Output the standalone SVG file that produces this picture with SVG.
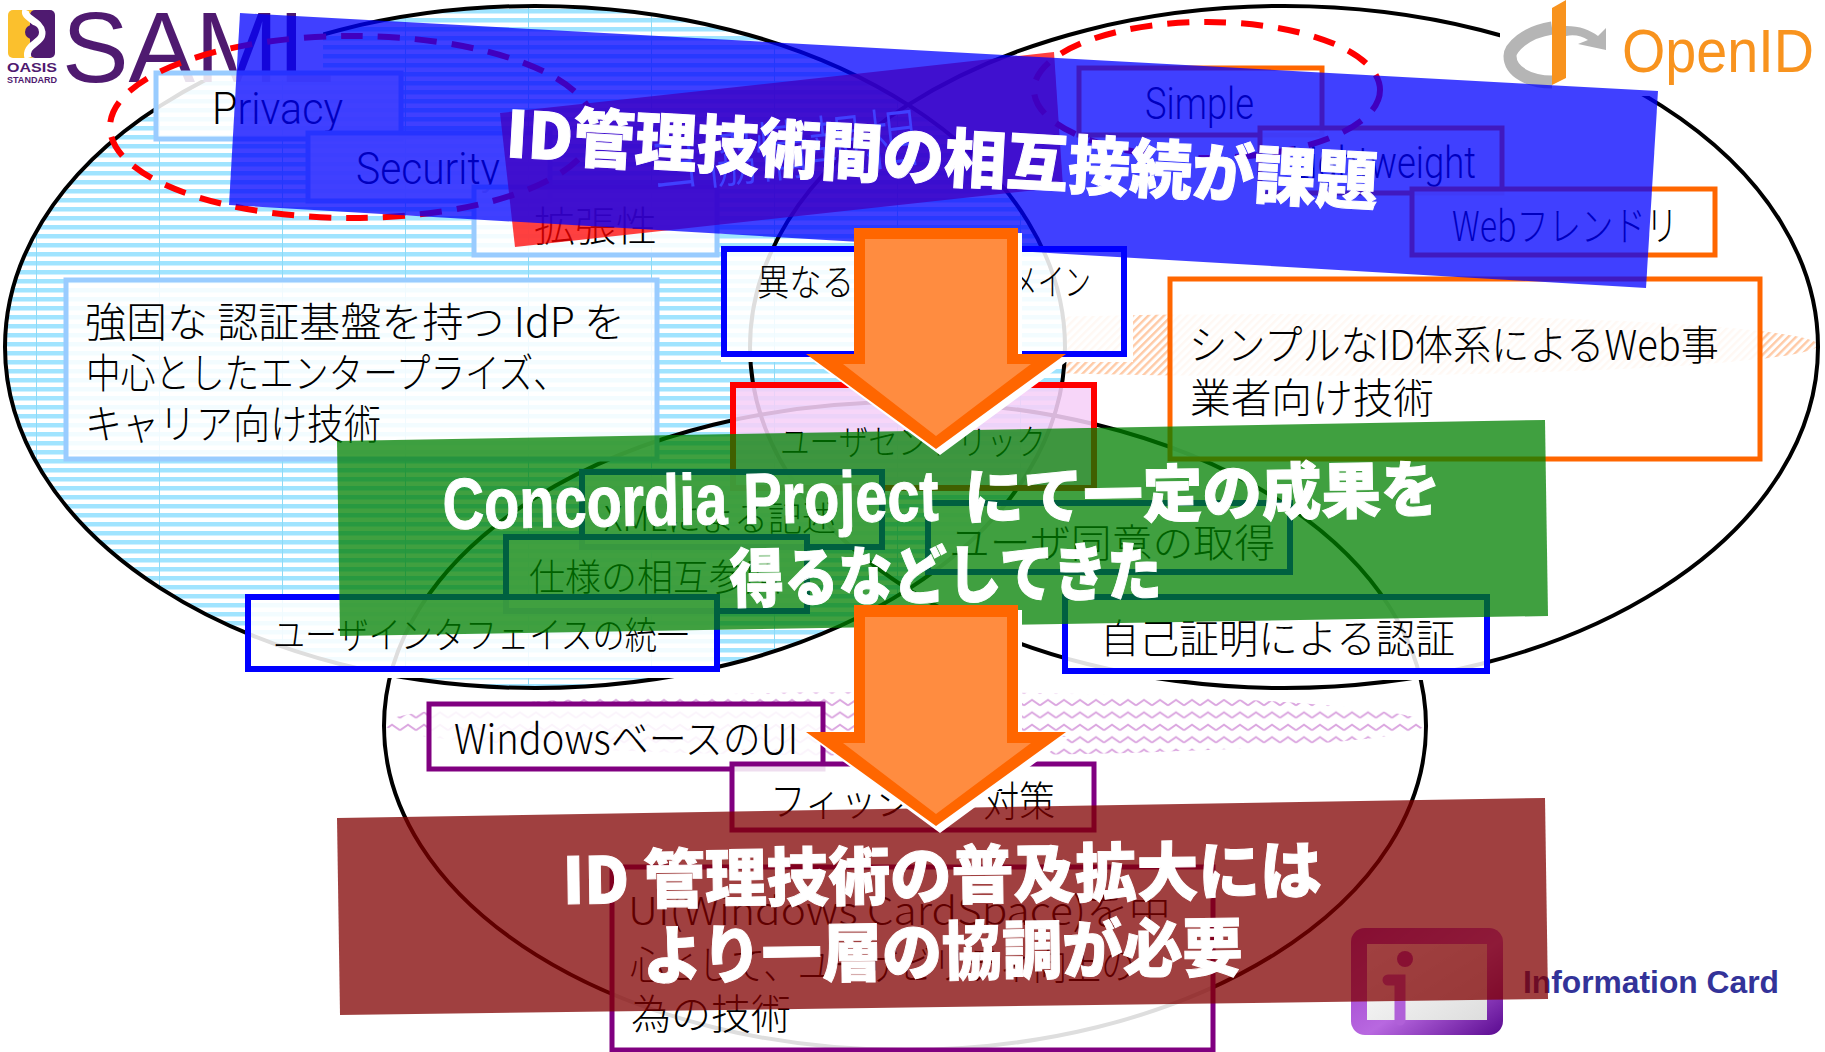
<svg xmlns="http://www.w3.org/2000/svg" width="1825" height="1052" viewBox="0 0 1825 1052">
<style>
text{font-family:"Noto Sans CJK JP","Liberation Sans",sans-serif;fill:#000;font-weight:300}
.lat{font-family:"Roboto","Liberation Sans",sans-serif;font-weight:300}
.logo{font-family:"Liberation Sans",sans-serif;font-weight:400}
.s{font-size:41px}
.title{font-family:"Noto Sans CJK JP",sans-serif;font-weight:900;fill:#fff;stroke:#fff;stroke-width:1}
.tl{font-family:"Liberation Sans",sans-serif;font-weight:700}
.e{fill:none;stroke:#000;stroke-width:4}
.box{fill:#fff;fill-opacity:.87;stroke-width:5}
.lb{stroke:#99ccff}.bl{stroke:#00f;stroke-width:6}.or{stroke:#f60}.pu{stroke:#800080}
.dash{fill:none;stroke:#f00;stroke-width:6;stroke-dasharray:22 15}
.band{fill-opacity:.75}
.white{fill:#fff}
.ao{fill:#f60}.ai{fill:#ff8c40}
</style>
<defs>
<pattern id="stripes" patternUnits="userSpaceOnUse" width="123" height="9" x="36" y="0">
<rect width="123" height="9" fill="#fff"/><rect width="123" height="4.5" fill="#a0e4ff"/><rect width="1" height="9" fill="#8edaf6"/>
</pattern>
<pattern id="hatch" patternUnits="userSpaceOnUse" width="5.5" height="5.5" patternTransform="rotate(-45)">
<rect width="5.5" height="5.5" fill="#fff"/><rect width="5.5" height="2.4" fill="#ffcaa6"/>
</pattern>
<pattern id="zig" patternUnits="userSpaceOnUse" width="16" height="12.4" y="2">
<rect width="16" height="12.4" fill="#fff"/><path d="M0 9L8 3.5L16 9" fill="none" stroke="#dba6e0" stroke-width="2"/>
</pattern>
<linearGradient id="card" x1="0" y1="0" x2="1" y2="1"><stop offset="0" stop-color="#9a38c8"/><stop offset=".55" stop-color="#b868e0"/><stop offset="1" stop-color="#5a0a90"/></linearGradient>
<linearGradient id="cardin" x1="0" y1="0" x2="1" y2="1"><stop offset="0" stop-color="#fff"/><stop offset="1" stop-color="#ddd"/></linearGradient>
</defs>

<g id="backgrounds">
<ellipse cx="1284" cy="345" rx="534" ry="31" fill="url(#hatch)"/>
<ellipse cx="905" cy="724" rx="521" ry="32" fill="url(#zig)"/>
<ellipse cx="535" cy="347" rx="530" ry="341" fill="url(#stripes)"/>
</g>
<g id="connectors">
<ellipse class="e" cx="535" cy="347" rx="530" ry="341"/>
<ellipse class="e" cx="1284" cy="347" rx="534" ry="341"/>
<ellipse class="e" cx="905" cy="726" rx="521" ry="324"/>
</g>
<g id="logo-saml">
<rect class="white" x="0" y="0" width="323" height="80"/>
<rect x="8" y="10" width="28" height="48" rx="5" fill="#fbc02d"/>
<rect x="30" y="10" width="25" height="48" rx="5" fill="#4f1a70"/>
<path d="M26 10C22 18 40 20 42 32C43 44 24 44 28 58" fill="none" stroke="#fff" stroke-width="7"/>
<circle cx="32" cy="32" r="7" fill="#4f1a70"/>
<text class="logo" x="7" y="72" style="font-weight:700;font-size:13px;fill:#4f1a70" textLength="50" lengthAdjust="spacingAndGlyphs">OASIS</text>
<text class="logo" x="7" y="83" style="font-weight:700;font-size:9.5px;fill:#4f1a70" textLength="50" lengthAdjust="spacingAndGlyphs">STANDARD</text>
<text class="logo" x="62" y="82" style="font-size:100px;fill:#4f1a70" textLength="272" lengthAdjust="spacingAndGlyphs">SAML</text>
</g>
<g id="logo-openid">
<rect class="white" x="1500" y="0" width="325" height="96"/>
<path d="M1552 28C1525 32 1510 48 1510 56C1510 72 1530 82 1552 82" fill="none" stroke="#b5b5b5" stroke-width="13"/>
<path d="M1566 26C1580 26 1590 30 1598 36L1606 28L1606 50L1578 44L1588 40C1582 36 1574 34 1566 36Z" fill="#b5b5b5"/>
<path d="M1552 8L1566 0L1566 78L1552 85Z" fill="#f8931e"/>
<text class="logo" x="1622" y="72" style="font-size:62px;fill:#f8931e" textLength="192" lengthAdjust="spacingAndGlyphs">OpenID</text>
</g>

<g id="strips">
<rect class="white" x="245" y="671" width="480" height="7"/>
<rect class="white" x="1062" y="671" width="433" height="9"/>
<rect class="white" x="721" y="355" width="412" height="7"/>
<rect class="white" x="1124" y="245" width="9" height="117"/>
</g>

<g id="node-privacy"><rect class="box lb" x="156" y="73" width="245" height="66"/><text class="lat" x="212" y="124" style="font-size:44px" textLength="131" lengthAdjust="spacingAndGlyphs">Privacy</text></g>
<g id="node-security"><rect class="box lb" x="308" y="133" width="242" height="68"/><text class="lat" x="356" y="184" style="font-size:44px" textLength="144" lengthAdjust="spacingAndGlyphs">Security</text></g>
<g id="node-kakucho"><rect class="box lb" x="474" y="187" width="243" height="68"/><text class="s" x="534" y="241" textLength="123" lengthAdjust="spacingAndGlyphs">拡張性</text></g>
<g id="node-saml-desc"><rect class="box lb" x="66" y="280" width="591" height="179"/>
<text class="s" x="85" y="337" textLength="540" lengthAdjust="spacingAndGlyphs">強固な 認証基盤を持つ IdP を</text>
<text class="s" x="86" y="388" textLength="482" lengthAdjust="spacingAndGlyphs">中心としたエンタープライズ、</text>
<text class="s" x="85" y="439" textLength="296" lengthAdjust="spacingAndGlyphs">キャリア向け技術</text></g>
<g id="node-domain"><rect class="box bl" x="724" y="249" width="400" height="105"/><text class="s" x="757" y="296" style="font-size:37px" textLength="97" lengthAdjust="spacingAndGlyphs">異なる</text><text class="s" x="1011" y="296" style="font-size:37px" textLength="80" lengthAdjust="spacingAndGlyphs">メイン</text></g>
<g id="node-user-centric"><rect class="box" style="stroke:#f00;stroke-width:6;fill:#f6d0f8;fill-opacity:.88" x="733" y="385" width="361" height="103"/><text class="s" x="780" y="455" style="font-size:35px" textLength="266" lengthAdjust="spacingAndGlyphs">ユーザセントリック</text></g>
<g id="node-xml"><rect class="box bl" x="582" y="472" width="300" height="75"/><text class="s" x="604" y="531" style="font-size:34px" textLength="232" lengthAdjust="spacingAndGlyphs">XMLによる記述</text></g>
<g id="node-spec"><rect class="box bl" x="506" y="537" width="301" height="74"/><text class="s" x="529" y="591" style="font-size:37px" textLength="252" lengthAdjust="spacingAndGlyphs">仕様の相互参照</text></g>
<g id="node-consent"><rect class="box bl" x="928" y="503" width="362" height="69"/><text class="s" x="949" y="557" style="font-size:39px" textLength="326" lengthAdjust="spacingAndGlyphs">ユーザ同意の取得</text></g>
<g id="node-ui"><rect class="box bl" x="248" y="597" width="469" height="72"/><text class="s" x="273" y="649" style="font-size:37px" textLength="416" lengthAdjust="spacingAndGlyphs">ユーザインタフェイスの統一</text></g>
<g id="node-self"><rect class="box bl" x="1065" y="597" width="422" height="74"/><text class="s" x="1100" y="653" style="font-size:40px" textLength="355" lengthAdjust="spacingAndGlyphs">自己証明による認証</text></g>
<g id="node-simple"><rect class="box or" x="1079" y="68" width="243" height="67"/><text class="lat" x="1145" y="119" style="font-size:44px" textLength="109" lengthAdjust="spacingAndGlyphs">Simple</text></g>
<g id="node-lightweight"><rect class="box or" x="1260" y="128" width="242" height="65"/><text class="lat" x="1290" y="178" style="font-size:44px" textLength="186" lengthAdjust="spacingAndGlyphs">Lightweight</text></g>
<g id="node-web"><rect class="box or" x="1412" y="189" width="303" height="66"/><text class="s" x="1452" y="241" textLength="226" lengthAdjust="spacingAndGlyphs">Webフレンドリ</text></g>
<g id="node-openid-desc"><rect class="box or" x="1170" y="279" width="590" height="180"/>
<text class="s" x="1189" y="360" textLength="530" lengthAdjust="spacingAndGlyphs">シンプルなID体系によるWeb事</text>
<text class="s" x="1190" y="413" textLength="244" lengthAdjust="spacingAndGlyphs">業者向け技術</text></g>
<g id="node-windows"><rect class="box pu" x="429" y="704" width="394" height="65"/><text class="s" x="454" y="754" textLength="344" lengthAdjust="spacingAndGlyphs">WindowsベースのUI</text></g>
<g id="node-phishing"><rect class="box pu" x="732" y="764" width="362" height="66"/><text class="s" x="770" y="816" textLength="285" lengthAdjust="spacingAndGlyphs">フィッシング対策</text></g>
<g id="node-cardspace"><rect class="box pu" x="612" y="867" width="601" height="183"/>
<text class="s" x="628" y="925" style="font-size:39px" textLength="543" lengthAdjust="spacingAndGlyphs">UI(Windows CardSpace)を中</text>
<text class="s" x="630" y="979" style="font-size:39px" textLength="505" lengthAdjust="spacingAndGlyphs">心として、ユーザビリティ向上の</text>
<text class="s" x="631" y="1029" textLength="160" lengthAdjust="spacingAndGlyphs">為の技術</text></g>

<g id="logo-infocard">
<rect x="1351" y="928" width="152" height="107" rx="14" fill="url(#card)"/>
<rect x="1367" y="944" width="120" height="76" fill="url(#cardin)"/>
<circle cx="1405" cy="959" r="8" fill="#a040c8"/>
<path d="M1388 980H1400V1020" fill="none" stroke="#b060d8" stroke-width="11" stroke-linecap="round"/>
<text class="logo" x="1523" y="993" style="font-weight:700;font-size:31px;fill:#333399" textLength="256" lengthAdjust="spacingAndGlyphs">Information Card</text>
</g>

<g id="dashed">
<ellipse class="dash" cx="352" cy="127" rx="242" ry="91"/>
<ellipse class="dash" cx="1207" cy="90" rx="173" ry="68"/>
</g>

<g id="band-blue">
<polygon points="500,113 1054,52 1063,187 515,247" fill="#f00" fill-opacity=".75"/>
<text transform="translate(650,190) rotate(-6.3)" style="font-size:66px;fill:#fff" textLength="272" lengthAdjust="spacingAndGlyphs">ヨ協情報相</text>
<polygon class="band" points="240,13 1658,91 1646,288 229,205" fill="#00f"/>
</g>
<g id="band-green"><polygon class="band" points="337,441 1545,420 1548,616 340,636" fill="#008000"/></g>
<g id="band-brown"><polygon class="band" points="337,818 1545,798 1548,999 340,1015" fill="#800000"/></g>

<g id="arrow-1">
<polygon class="white" points="858,233 1022,233 1022,359 1070,359 940,455 810,359 858,359"/>
<polygon class="ao" points="854,228 1018,228 1018,354 1066,354 936,449 806,354 854,354"/>
<polygon class="ai" points="865,239 1007,239 1007,364 1031,364 936,436 843,364 865,364"/>
</g>
<g id="arrow-2">
<polygon class="white" points="858,610 1022,610 1022,737 1070,737 940,833 810,737 858,737"/>
<polygon class="ao" points="854,605 1018,605 1018,732 1066,732 936,826 806,732 854,732"/>
<polygon class="ai" points="865,617 1007,617 1007,743 1031,743 936,814 843,743 865,743"/>
</g>

<g id="titles">
<text class="title" transform="translate(505,157) rotate(3.15)" style="font-size:64px" textLength="873" lengthAdjust="spacingAndGlyphs">ID管理技術間の相互接続が課題</text>
<text class="title" transform="translate(443,529) rotate(-1)" style="font-size:62px"><tspan class="tl" x="0" y="0" style="font-size:72px" textLength="496" lengthAdjust="spacingAndGlyphs">Concordia Project</tspan><tspan x="508" y="0" textLength="490" lengthAdjust="spacingAndGlyphs"> にて一定の成果を</tspan></text>
<text class="title" transform="translate(730,602) rotate(-1)" style="font-size:64px" textLength="432" lengthAdjust="spacingAndGlyphs">得るなどしてきた</text>
<text class="title" transform="translate(563,904) rotate(-.8)" style="font-size:64px" textLength="759" lengthAdjust="spacingAndGlyphs">ID 管理技術の普及拡大には</text>
<text class="title" transform="translate(643,979) rotate(-.8)" style="font-size:64px" textLength="600" lengthAdjust="spacingAndGlyphs">より一層の協調が必要</text>
</g>
</svg>
